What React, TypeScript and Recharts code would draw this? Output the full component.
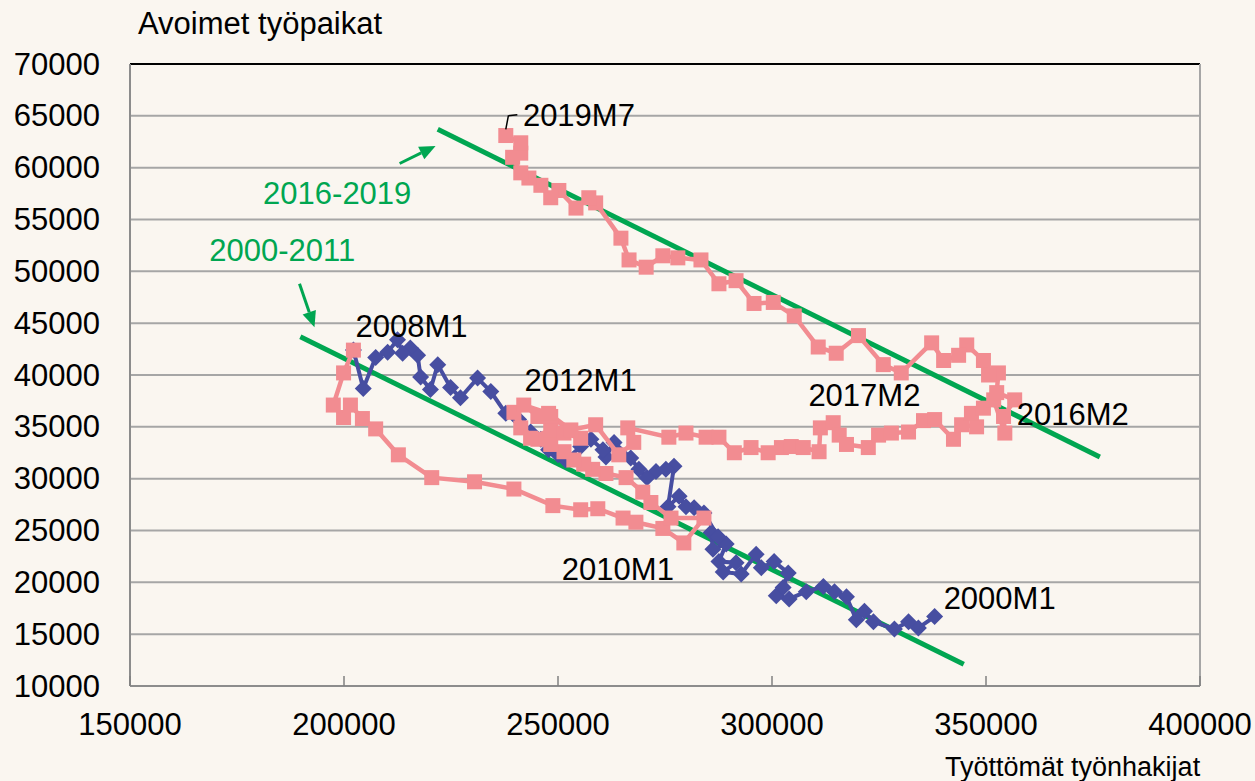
import React from "react";
import {
  CartesianGrid,
  ReferenceDot,
  ReferenceLine,
  Scatter,
  ScatterChart,
  XAxis,
  YAxis,
} from "recharts";

const PINK = "#f28c91";
const BLUE = "#474ea1";
const GREEN = "#00a651";
const BG = "#faf6f0";
const GRID = "#a6a6a6";
const FONT = '"Liberation Sans", Arial, sans-serif';

const xTicks = [150000, 200000, 250000, 300000, 350000, 400000];
const yTicks = [10000, 15000, 20000, 25000, 30000, 35000, 40000, 45000, 50000, 55000, 60000, 65000, 70000];

// [työttömät työnhakijat, avoimet työpaikat], 2000M1 -> 2008M1
const blue2000to2008 = [
  [338000, 16700], [334200, 15600], [331900, 16200], [328600, 15500], [323700, 16200],
  [321600, 17200], [319700, 16400], [317400, 18600], [314600, 19100], [312000, 19600],
  [308000, 19100], [304000, 18400], [301000, 18700], [302600, 19500], [303800, 20900],
  [300500, 22000], [297500, 21400], [296300, 22700], [292800, 20800], [288600, 21000],
  [291600, 21900], [287600, 22000], [289300, 23700], [286200, 23200], [285800, 24800],
  [287400, 24400], [284100, 26700], [281800, 27200], [279900, 27300], [278300, 28300],
  [275700, 27300], [277100, 31200], [275200, 30900], [272900, 30700], [270800, 30100],
  [268900, 30900], [267000, 32000], [263100, 33500], [261200, 32100], [260500, 32800],
  [257700, 33800], [255300, 33100], [251800, 31800], [250000, 32300], [247800, 32800],
  [246000, 33800], [243600, 34500], [240800, 35700], [237800, 36300], [234300, 38400],
  [231200, 39700], [227200, 37800], [224900, 38800], [221900, 41000], [220200, 38600],
  [217900, 39800], [217200, 41900], [215500, 42600], [213700, 42100], [212500, 43400],
  [210200, 42200], [207400, 41700], [204500, 38700], [202200, 42400],
];

// 2008M1 -> 2010M1
const pink2008to2009 = [
  [202200, 42400], [199900, 40200], [197500, 37100], [199900, 35900], [201500, 37100],
  [204300, 35800], [207400, 34800], [212700, 32300], [220500, 30100], [230500, 29700],
  [239700, 29000], [248800, 27400], [255300, 27000], [259300, 27100], [265200, 26200],
  [268200, 25800], [274500, 25200], [279400, 23800], [284100, 26200],
];

// 2010 -> 2012M1
const pink2010to2011 = [
  [276400, 26200], [271700, 27700], [269800, 28700], [265900, 30100], [261200, 30500],
  [258100, 30900], [256000, 31400], [253700, 31800], [251400, 32600], [248300, 33300],
  [245300, 33800], [241300, 34900], [239700, 36400], [243600, 33900], [248300, 34700],
  [251400, 34400], [255300, 33900], [248300, 36000], [245300, 36000], [242000, 37100],
];

// 2012 -> 2016M2
const pink2012to2016 = [
  [247800, 36300], [253000, 34700], [258800, 35200], [264200, 32300], [267700, 33500],
  [266300, 34900], [275900, 34000], [279900, 34400], [284600, 34000], [287600, 34000],
  [291200, 32500], [295100, 33000], [299100, 32500], [302200, 33000], [304500, 33100],
  [307300, 33000], [311000, 32600], [311300, 34900], [314300, 35400], [315700, 34200],
  [317400, 33300], [322500, 33000], [324900, 34200], [327900, 34400], [331900, 34500],
  [335400, 35600], [338000, 35700], [342400, 33800], [344300, 35200], [347800, 35000],
  [346600, 36300], [349400, 36800], [351800, 37600], [354400, 34400],
];

// 2016 -> 2019M7
const pink2016to2019 = [
  [354100, 36000], [356700, 37600], [352500, 38300], [352900, 40200], [350600, 40000],
  [349400, 41400], [345500, 42900], [343600, 41900], [340100, 41400], [337300, 43100],
  [330200, 40200], [326000, 41000], [320200, 43800], [315000, 42100], [310800, 42700],
  [305200, 45700], [300300, 47000], [295800, 46900], [291600, 49100], [287600, 48800],
  [283400, 51100], [278000, 51300], [274500, 51500], [270600, 50400], [266600, 51100],
  [264700, 53200], [258800, 56600], [257200, 57100], [254200, 56100], [250200, 57800],
  [248300, 57100], [246000, 58300], [243200, 59000], [241300, 59500], [239400, 61000],
  [241300, 61400], [241300, 62400], [237800, 63100],
];

const trend2016to2019 = [[221900, 63700], [376600, 32100]];
const trend2000to2011 = [[189800, 43700], [344800, 12100]];
const arrow2016to2019 = [[213000, 60400], [221400, 62100]];
const arrow2000to2011 = [[189600, 48800], [193100, 44600]];
const leader2019M7 = [[237800, 63700], [238400, 65000], [240500, 65100]];

const labels = [
  { x: 241800, y: 65000, text: "2019M7", color: "#000" },
  { x: 202700, y: 44700, text: "2008M1", color: "#000" },
  { x: 242200, y: 39500, text: "2012M1", color: "#000" },
  { x: 308500, y: 38000, text: "2017M2", color: "#000" },
  { x: 357200, y: 36200, text: "2016M2", color: "#000" },
  { x: 250900, y: 21200, text: "2010M1", color: "#000" },
  { x: 340100, y: 18400, text: "2000M1", color: "#000" },
  { x: 181100, y: 57500, text: "2016-2019", color: GREEN },
  { x: 168500, y: 52000, text: "2000-2011", color: GREEN },
];

const toPoints = (rows: number[][]) => rows.map(([x, y]) => ({ x, y }));

const blueData = toPoints(blue2000to2008);
const pinkData = toPoints([...pink2008to2009, ...pink2010to2011, ...pink2012to2016, ...pink2016to2019]);

const Square = (p: any) => (
  <rect x={p.cx - 7.5} y={p.cy - 7.5} width={15} height={15} fill={PINK} />
);

const Diamond = (p: any) => (
  <polygon
    points={`${p.cx},${p.cy - 8.5} ${p.cx + 8.5},${p.cy} ${p.cx},${p.cy + 8.5} ${p.cx - 8.5},${p.cy}`}
    fill={BLUE}
  />
);

const Arrow = (p: any) => {
  const { x1, y1, x2, y2 } = p;
  const a = Math.atan2(y2 - y1, x2 - x1);
  const len = 16;
  const hw = 7;
  const bx = x2 - len * Math.cos(a);
  const by = y2 - len * Math.sin(a);
  const nx = -Math.sin(a) * hw;
  const ny = Math.cos(a) * hw;
  return (
    <g>
      <line x1={x1} y1={y1} x2={bx} y2={by} stroke={GREEN} strokeWidth={3} />
      <polygon points={`${x2},${y2} ${bx + nx},${by + ny} ${bx - nx},${by - ny}`} fill={GREEN} />
    </g>
  );
};

const XTick = ({ x, y, payload }: any) => (
  <g>
    <line x1={x} x2={x} y1={y} y2={y - 10} stroke="#808080" strokeWidth={1.5} />
    <text x={x} y={y + 38} textAnchor="middle" dominantBaseline="central" fontSize={31} fontFamily={FONT} fill="#000">
      {payload.value}
    </text>
  </g>
);

const YTick = ({ x, y, payload }: any) => (
  <text x={x - 30} y={y} textAnchor="end" dominantBaseline="central" fontSize={31} fontFamily={FONT} fill="#000">
    {payload.value}
  </text>
);

export default function App() {
  return (
    <div style={{ position: "absolute", left: 0, top: 0, width: 1255, height: 781, background: BG, fontFamily: FONT }}>
      <div style={{ position: "absolute", left: 138, top: 8, fontSize: 31, lineHeight: "31px", color: "#000" }}>
        Avoimet työpaikat
      </div>
      <div style={{ position: "absolute", left: 945, top: 754, fontSize: 27, lineHeight: "27px", color: "#000" }}>
        Työttömät työnhakijat
      </div>
      <ScatterChart width={1255} height={781} margin={{ top: 64, right: 55, bottom: 65, left: 0 }}>
        <CartesianGrid horizontal vertical={false} stroke={GRID} strokeWidth={2} />
        <XAxis
          type="number"
          dataKey="x"
          domain={[150000, 400000]}
          ticks={xTicks}
          allowDataOverflow
          height={30}
          tickSize={0}
          tickMargin={0}
          tickLine={false}
          axisLine={{ stroke: "#8c8c8c", strokeWidth: 2 }}
          tick={<XTick />}
          interval={0}
        />
        <YAxis
          type="number"
          dataKey="y"
          domain={[10000, 70000]}
          ticks={yTicks}
          allowDataOverflow
          width={130}
          tickSize={0}
          tickMargin={0}
          tickLine={false}
          axisLine={{ stroke: "#8c8c8c", strokeWidth: 2 }}
          tick={<YTick />}
          interval={0}
        />
        <ReferenceLine y={70000} stroke="#000" strokeWidth={2} />
        <ReferenceLine x={400000} stroke={GRID} strokeWidth={2} />
        <Scatter
          data={blueData}
          line={{ stroke: BLUE, strokeWidth: 4 }}
          lineType="joint"
          shape={Diamond}
          isAnimationActive={false}
        />
        <Scatter
          data={pinkData}
          line={{ stroke: PINK, strokeWidth: 4.5 }}
          lineType="joint"
          shape={Square}
          isAnimationActive={false}
        />
        <Scatter
          data={toPoints(leader2019M7)}
          line={{ stroke: "#000", strokeWidth: 1.5 }}
          lineType="joint"
          shape={() => <g />}
          isAnimationActive={false}
        />
        {[trend2016to2019, trend2000to2011].map((t, i) => (
          <ReferenceLine
            key={"t" + i}
            segment={toPoints(t)}
            stroke={GREEN}
            strokeWidth={5}
          />
        ))}
        {[arrow2016to2019, arrow2000to2011].map((t, i) => (
          <ReferenceLine key={"a" + i} segment={toPoints(t)} shape={Arrow} />
        ))}
        {labels.map((l) => (
          <ReferenceDot
            key={l.text}
            x={l.x}
            y={l.y}
            r={0}
            shape={(p: any) => (
              <text x={p.cx} y={p.cy} dominantBaseline="central" fontSize={31} fontFamily={FONT} fill={l.color}>
                {l.text}
              </text>
            )}
          />
        ))}
      </ScatterChart>
    </div>
  );
}
